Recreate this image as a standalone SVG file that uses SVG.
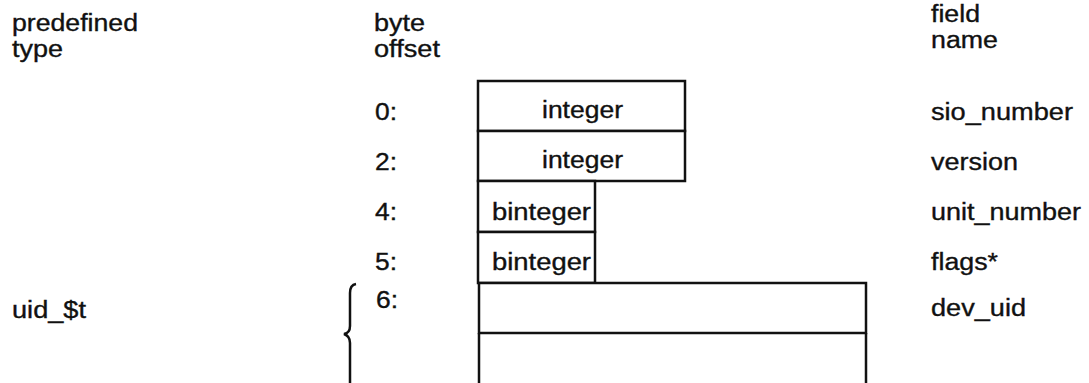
<svg xmlns="http://www.w3.org/2000/svg" width="1089" height="383" viewBox="0 0 1089 383">
<style>
text{font-family:"Liberation Sans",Arial,sans-serif;font-size:23px;fill:#111;stroke:#111;stroke-width:0.35}
.box{fill:#fff;stroke:#111;stroke-width:2.5}
.ln{fill:none;stroke:#111;stroke-width:2.5}
</style>
<rect width="1089" height="383" fill="#fff"/>
<g id="headers">
<text x="12" y="31" textLength="126" lengthAdjust="spacingAndGlyphs">predefined</text>
<text x="12" y="57" textLength="51" lengthAdjust="spacingAndGlyphs">type</text>
<text x="374" y="31" textLength="51" lengthAdjust="spacingAndGlyphs">byte</text>
<text x="374" y="57" textLength="66" lengthAdjust="spacingAndGlyphs">offset</text>
<text x="931" y="22" textLength="49" lengthAdjust="spacingAndGlyphs">field</text>
<text x="931" y="48" textLength="67" lengthAdjust="spacingAndGlyphs">name</text>
</g>
<g id="row0">
<text x="375" y="120" textLength="22" lengthAdjust="spacingAndGlyphs">0:</text>
<rect class="box" x="478" y="81" width="207" height="50"/>
<text x="542" y="118" textLength="81" lengthAdjust="spacingAndGlyphs">integer</text>
<text x="931" y="120" textLength="142" lengthAdjust="spacingAndGlyphs">sio_number</text>
</g>
<g id="row2">
<text x="375" y="170" textLength="22" lengthAdjust="spacingAndGlyphs">2:</text>
<rect class="box" x="478" y="131" width="207" height="50"/>
<text x="542" y="168" textLength="81" lengthAdjust="spacingAndGlyphs">integer</text>
<text x="931" y="170" textLength="87" lengthAdjust="spacingAndGlyphs">version</text>
</g>
<g id="row4">
<text x="375" y="220" textLength="22" lengthAdjust="spacingAndGlyphs">4:</text>
<rect class="box" x="478" y="181" width="117" height="51"/>
<text x="492" y="220" textLength="99" lengthAdjust="spacingAndGlyphs">binteger</text>
<text x="931" y="220" textLength="150" lengthAdjust="spacingAndGlyphs">unit_number</text>
</g>
<g id="row5">
<text x="375" y="270" textLength="22" lengthAdjust="spacingAndGlyphs">5:</text>
<rect class="box" x="478" y="232" width="117" height="51"/>
<text x="492" y="270" textLength="99" lengthAdjust="spacingAndGlyphs">binteger</text>
<text x="931" y="270" textLength="67" lengthAdjust="spacingAndGlyphs">flags*</text>
</g>
<g id="row6">
<text x="376" y="308" textLength="22" lengthAdjust="spacingAndGlyphs">6:</text>
<rect class="box" x="479" y="283" width="387" height="50"/>
<path class="ln" d="M479,333 V392 M866,333 V392"/>
<text x="931" y="316" textLength="95" lengthAdjust="spacingAndGlyphs">dev_uid</text>
</g>
<g id="uid_type">
<text x="12" y="318" textLength="74" lengthAdjust="spacingAndGlyphs">uid_$t</text>
</g>
<g id="connectors">
<path class="ln" stroke-width="3" d="M356,284 Q350,285 350,293 L350,326 Q350,333 344,334 Q350,336 350,343 L350,390"/>
</g>
</svg>
